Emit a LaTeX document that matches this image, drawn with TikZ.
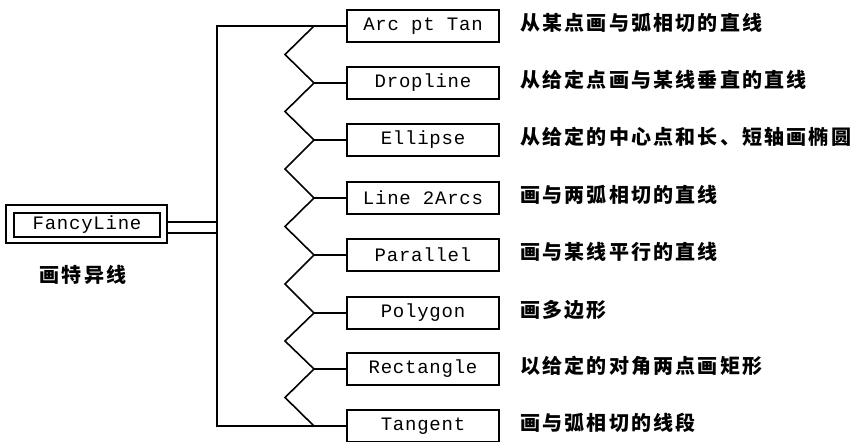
\documentclass[tikz,border=0pt]{standalone}
\usepackage{fontspec}
\newfontfamily\cjk[LetterSpace=11]{Noto Sans CJK SC}
\newfontfamily\lbl[LetterSpace=4]{Liberation Mono}
\begin{document}
\begin{tikzpicture}[x=1pt,y=-1pt,
  box/.style={draw, line width=1.5pt, minimum width=152pt, minimum height=32pt, inner sep=0pt,
    font=\lbl\fontsize{19}{19}\selectfont},
  desc/.style={anchor=west, inner sep=0pt, font=\cjk\bfseries\fontsize{20}{20}\selectfont},
  conn/.style={line width=1.1pt},
  zig/.style={line width=1.6pt, line join=miter}]
\useasboundingbox (0,0) rectangle (855,442);
% main box
\node[draw, line width=1.5pt, minimum width=161pt, minimum height=38pt, inner sep=0pt] (fo) at (86.5,224) {};
\node[draw, line width=1.1pt, minimum width=146pt, minimum height=24pt, inner sep=0pt,
  font=\lbl\fontsize{19}{19}\selectfont] (fancy) at (87,225) {FancyLine};
\node[inner sep=0pt, font=\cjk\bfseries\fontsize{20}{20}\selectfont] (fl) at (83,275) {画特异线};
% branch boxes and descriptions
\foreach \i/\y/\t/\d in {
  1/26/Arc pt Tan/从某点画与弧相切的直线,
  2/83/Dropline/从给定点画与某线垂直的直线,
  3/140/Ellipse/从给定的中心点和长、短轴画椭圆,
  4/198/Line 2Arcs/画与两弧相切的直线,
  5/255/Parallel/画与某线平行的直线,
  6/313/Polygon/画多边形,
  7/369/Rectangle/以给定的对角两点画矩形,
  8/426/Tangent/画与弧相切的线段}{
  \node[box] (b\i) at (423,\y) {\t};
  \node[desc] (d\i) at (520,\y-3) {\d};
  \coordinate (z\i) at (314,\y);
}
\foreach \i/\y in {1/54.5,2/111.5,3/169,4/226.5,5/284,6/341,7/397.5}{
  \coordinate (a\i) at (285,\y);
}
% trunk
\coordinate (tt) at (217,26);
\coordinate (tb) at (217,426);
\draw[conn] (b1.west) -- (tt) -- (tb) -- (b8.west);
\coordinate (f1) at (217,222);
\coordinate (f2) at (217,233);
\draw[conn] (fo.east |- f1) -- (f1);
\draw[conn] (fo.east |- f2) -- (f2);
% zigzag
\draw[zig] (z1) -- (a1) -- (z2) -- (a2) -- (z3) -- (a3) -- (z4) -- (a4) -- (z5) -- (a5) -- (z6) -- (a6) -- (z7) -- (a7) -- (z8);
\foreach \i in {2,...,7}{ \draw[conn] (z\i) -- (b\i.west); }
\end{tikzpicture}
\end{document}
